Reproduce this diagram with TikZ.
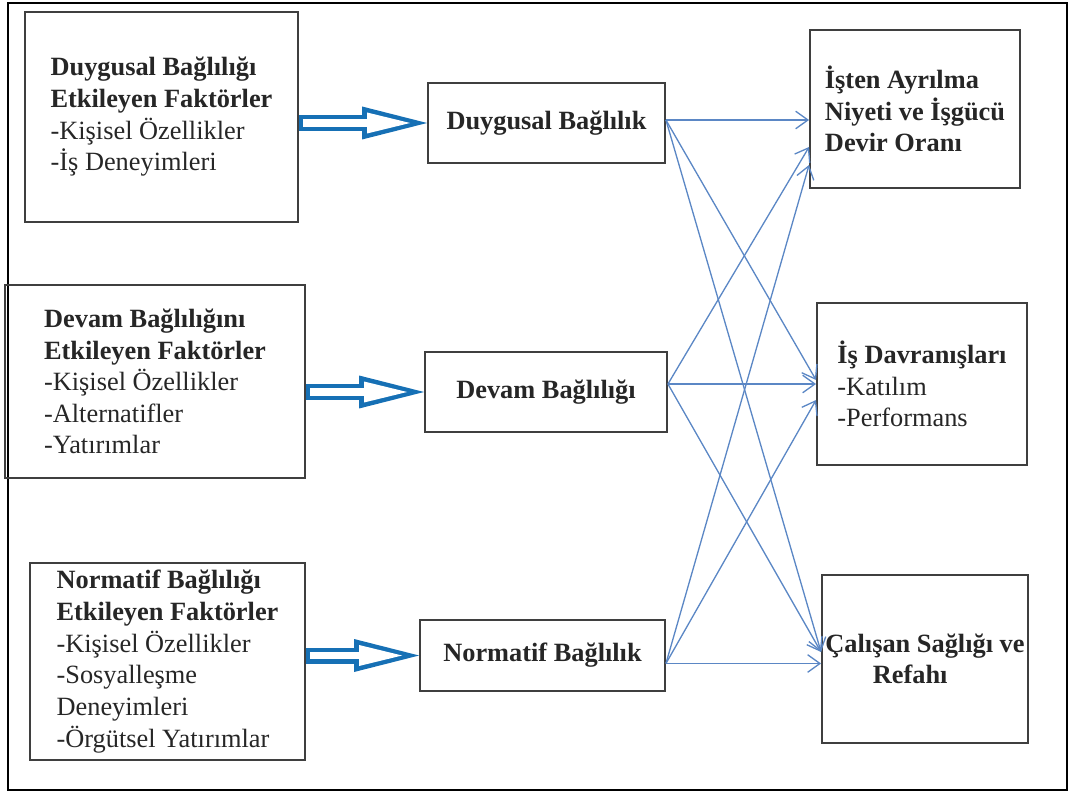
\documentclass[tikz,border=0pt]{standalone}
\usepackage{fontspec}
\setmainfont{Liberation Serif}
\usepackage{xcolor}
\usepackage{tikz}
\usetikzlibrary{calc,arrows.meta,positioning}

\definecolor{boxline}{HTML}{3F3F3F}
\definecolor{linkblue}{HTML}{5B87C5}
\definecolor{fatblue}{HTML}{1670B5}

\begin{document}
\begin{tikzpicture}[x=0.02cm,y=-0.02cm,
    every node/.style={font=\fontsize{15}{18}\selectfont, text=black!85},
    box/.style={draw=boxline, line width=1.1pt, inner sep=0pt, align=left},
    link/.style={draw=linkblue, line width=0.75pt, -{Straight Barb[length=7pt,width=10pt]}},
    fatout/.style={draw=fatblue, line width=0.32cm, -{Triangle[length=1.3cm,width=0.66cm,line width=0pt]}},
    fatin/.style={draw=white, line width=0.15cm, shorten <=0.08cm, shorten >=0.34cm, -{Triangle[length=0.86cm,width=0.42cm,line width=0pt]}}]
            \useasboundingbox (0,0) rectangle (1071,793);
            \draw [black, line width=0.9pt] (8,3) rectangle (1067,790);
            % factor boxes
            \node [box, minimum width=5.46cm, minimum height=4.2cm] (dfak) at (161.5,117)
                {\textbf{Duygusal Bağlılığı}\\\textbf{Etkileyen Faktörler}\\-Kişisel Özellikler\\-İş Deneyimleri};
            \node [box, minimum width=6cm, minimum height=3.86cm] (vfak) at (155,381.5)
                {\textbf{Devam Bağlılığını}\\\textbf{Etkileyen Faktörler}\\-Kişisel Özellikler\\-Alternatifler\\-Yatırımlar};
            \node [box, minimum width=5.5cm, minimum height=3.94cm] (nfak) at (167.5,661.5)
                {\textbf{Normatif Bağlılığı}\\\textbf{Etkileyen Faktörler}\\-Kişisel Özellikler\\-Sosyalleşme\\Deneyimleri\\-Örgütsel Yatırımlar};
            % commitment boxes
            \node [box, minimum width=4.74cm, minimum height=1.6cm] (dbag) at (546.5,123) {\textbf{Duygusal Bağlılık}};
            \node [box, minimum width=4.84cm, minimum height=1.6cm] (vbag) at (546,392) {\textbf{Devam Bağlılığı}};
            \node [box, minimum width=4.9cm, minimum height=1.42cm] (nbag) at (542.5,655.5) {\textbf{Normatif Bağlılık}};
            % outcome boxes
            \node [box, minimum width=4.2cm, minimum height=3.16cm] (ayrl) at (915,109)
                {\textbf{İşten Ayrılma}\\\textbf{Niyeti ve İşgücü}\\\textbf{Devir Oranı}};
            \node [box, minimum width=4.2cm, minimum height=3.24cm] (davr) at (922,384)
                {\textbf{İş Davranışları}\\-Katılım\\-Performans};
            \node [box, minimum width=4.12cm, minimum height=3.36cm] (sagl) at (925,659)
                {\textbf{Çalışan Sağlığı ve}\\\hspace*{1.8em}\textbf{Refahı}};
            % fat arrows
            \draw [fatout] (dfak.east |- dbag.west) -- (dbag.west);
            \draw [fatin] (dfak.east |- dbag.west) -- (dbag.west);
            \draw [fatout] (vfak.east |- vbag.west) -- (vbag.west);
            \draw [fatin] (vfak.east |- vbag.west) -- (vbag.west);
            \draw [fatout] (nfak.east |- nbag.west) -- (nbag.west);
            \draw [fatin] (nfak.east |- nbag.west) -- (nbag.west);
            % links
            \draw [link] ([yshift=0.06cm]dbag.east) -- ([yshift=0.06cm]dbag.east -| ayrl.west);
            \draw [link] ([yshift=0.06cm]dbag.east) -- ([yshift=0.08cm]davr.west);
            \draw [link] ([yshift=0.06cm]dbag.east) -- ([yshift=0.14cm]sagl.west);
            \draw [link] ([yshift=0.16cm]vbag.east) -- ([yshift=-0.76cm]ayrl.west);
            \draw [link] ([yshift=0.16cm]vbag.east) -- ([yshift=0.16cm]vbag.east -| davr.west);
            \draw [link] ([yshift=0.16cm]vbag.east) -- ([yshift=0.14cm]sagl.west);
            \draw [link] ([yshift=-0.16cm]nbag.east) -- ([yshift=-1.12cm]ayrl.west);
            \draw [link] ([yshift=-0.16cm]nbag.east) -- ([yshift=-0.32cm]davr.west);
            \draw [link] ([yshift=-0.16cm]nbag.east) -- ([yshift=-0.16cm]nbag.east -| sagl.west);
\end{tikzpicture}
\end{document}
